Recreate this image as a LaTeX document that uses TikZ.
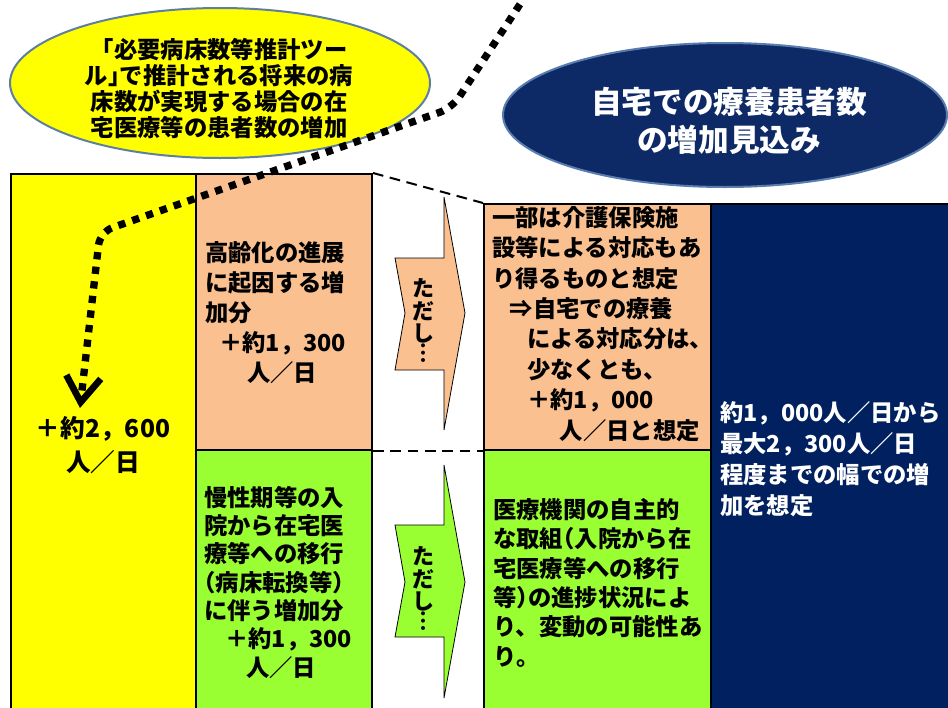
\documentclass[tikz,border=0pt]{standalone}
\usepackage{fontspec}
\setmainfont{Noto Sans CJK JP}
\usetikzlibrary{arrows.meta,shapes.geometric}
\definecolor{ylw}{HTML}{FFFF00}
\definecolor{peach}{HTML}{FAC090}
\definecolor{lgreen}{HTML}{99FF33}
\definecolor{navybox}{HTML}{002060}
\definecolor{navyell}{HTML}{0E2A66}
\definecolor{navyedge}{HTML}{5A7DB0}
\definecolor{ylwedge}{HTML}{5E7FA0}
\newcommand{\ob}{\kern-0.5em（}
\newcommand{\cb}{）\kern-0.5em}
\newcommand{\ck}{」\kern-0.5em}
\begin{document}
\begin{tikzpicture}[x=0.75pt,y=-0.75pt,
  box/.style={draw=black, line width=1.5pt, inner sep=0pt, anchor=north west},
  txt/.style={inner sep=0pt, anchor=north west, align=left, font=\bfseries\fontsize{17.5pt}{#1}\selectfont},
  dashline/.style={draw=black, line width=1.5pt, dash pattern=on 8pt off 5pt},
  barrow/.style={draw=black, line width=0.6pt},
  vch/.style={inner sep=0pt, font=\bfseries\fontsize{16.5pt}{18pt}\selectfont}
]
\clip (0,0) rectangle (948,707);
\fill[white] (0,0) rectangle (948,707);

% ellipses
\node[ellipse, draw=ylwedge, line width=1.5pt, fill=ylw, minimum width=315pt, minimum height=112.5pt, inner sep=0pt] (e1) at (220,83) {};
\node[inner sep=0pt, align=center, font=\bfseries\fontsize{17.5pt}{19.5pt}\selectfont] (e1t) at (219,89)
  {「必要病床数等推計ツー\\ル\ck で推計される将来の病\\床数が実現する場合の在\\宅医療等の患者数の増加};
\node[ellipse, draw=navyedge, line width=1.5pt, fill=navyell, minimum width=333pt, minimum height=108pt, inner sep=0pt] (e2) at (725,115) {};
\node[inner sep=0pt, align=center, text=white, font=\bfseries\fontsize{23pt}{28.5pt}\selectfont] (e2t) at (729,121)
  {自宅での療養患者数\\の増加見込み};

% boxes
\node[box, fill=navybox, minimum width=181.5pt, minimum height=381.75pt] (nb) at (710,203) {};
\node[box, fill=ylw, minimum width=138.75pt, minimum height=404.25pt] (yb) at (10,173) {};
\node[box, fill=peach, minimum width=132pt, minimum height=207pt] (oL) at (195,173) {};
\node[box, fill=lgreen, minimum width=132pt, minimum height=197.25pt] (gL) at (195,449) {};
\node[box, fill=peach, minimum width=170.25pt, minimum height=184.5pt] (oR) at (483,203) {};
\node[box, fill=lgreen, minimum width=170.25pt, minimum height=197.25pt] (gR) at (483,449) {};

% dashed connectors
\draw[dashline] (oL.north east) -- (oR.north west);
\draw[dashline] (oL.south east) -- (oR.south west);

% block arrows
\draw[barrow, fill=peach] (444,197) -- (465,313) -- (444,430) -- (444,370) -- (395,370) -- (405,313) -- (395,258) -- (444,258) -- cycle;
\draw[barrow, fill=lgreen] (444,465) -- (465,582) -- (444,698) -- (444,637) -- (395,637) -- (405,582) -- (395,525) -- (444,525) -- cycle;
% vertical text "ただし…"
\node[vch] (a1c1) at (423,288) {た};
\node[vch] (a1c2) at (423,311) {だ};
\node[vch] (a1c3) at (423,333) {し};
\node[vch] (a1c4) at (423,353) {︙};
\node[vch] (a2c1) at (423,556) {た};
\node[vch] (a2c2) at (423,579) {だ};
\node[vch] (a2c3) at (423,601) {し};
\node[vch] (a2c4) at (423,621) {︙};

% texts
\node[inner sep=0pt, align=center, font=\bfseries\fontsize{18.5pt}{25pt}\selectfont] (ybt) at (103,445) {＋約2，600\\人／日};
\node[txt=22.5pt] (oLt) at (205,241) {高齢化の進展\\に起因する増\\加分\\\hspace*{0.6em}＋約1，300\\\hspace*{1.8em}人／日};
\node[txt=21.2pt] (gLt) at (204,486) {慢性期等の入\\院から在宅医\\療等への移行\\\ob 病床転換等\cb\\に伴う増加分\\\hspace*{0.9em}＋約1，300\\\hspace*{1.8em}人／日};
\node[txt=22.8pt] (oRt) at (492,206) {一部は介護保険施\\設等による対応もあ\\り得るものと想定\\\hspace*{0.75em}⇒自宅での療養\\\hspace*{1.5em}による対応分は、\\\hspace*{1.5em}少なくとも、\\\hspace*{1.5em}＋約1，000\\\hspace*{2.9em}人／日と想定};
\node[txt=22pt] (gRt) at (493,498) {医療機関の自主的\\な取組\ob 入院から在\\宅医療等への移行\\等\cb の進捗状況によ\\り、変動の可能性あ\\り。};
\node[txt=23.2pt, text=white] (nbt) at (720,401) {約1，000人／日から\\最大2，300人／日\\程度までの幅での増\\加を想定};

% dotted arrow
\coordinate (dA) at (528,-8);
\coordinate (dK1) at (452,108);
\coordinate (dK2) at (100,232);
\coordinate (dB) at (80,408);
\draw[line width=5.5pt, dash pattern=on 5.5pt off 5.5pt, rounded corners=10pt,
  -{Straight Barb[length=19pt,width=26pt,line width=5pt]}]
  (dA) -- (dK1) -- (dK2) -- (dB);
\end{tikzpicture}
\end{document}
